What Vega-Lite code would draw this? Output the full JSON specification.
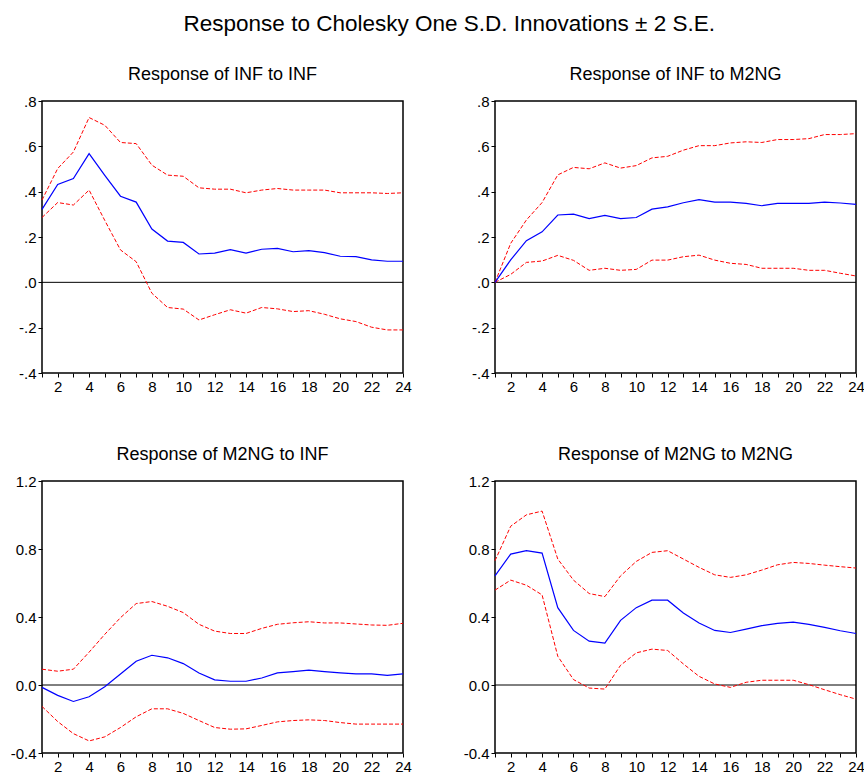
{
  "$schema": "https://vega.github.io/schema/vega-lite/v6.json",
  "background": "white",
  "padding": {"left": 9, "top": 12, "right": 2, "bottom": 0},
  "title": {"text": "Response to Cholesky One S.D. Innovations ± 2 S.E.", "fontSize": 22.5, "font": "Liberation Sans", "fontWeight": "normal", "color": "black", "anchor": "middle", "offset": 30, "dx": 12},
  "datasets": {
    "irf": [
      {"p":"A","h":1,"r":0.322,"u":0.363,"l":0.286},
      {"p":"A","h":2,"r":0.432,"u":0.502,"l":0.352},
      {"p":"A","h":3,"r":0.458,"u":0.575,"l":0.341},
      {"p":"A","h":4,"r":0.568,"u":0.727,"l":0.407},
      {"p":"A","h":5,"r":0.472,"u":0.693,"l":0.273},
      {"p":"A","h":6,"r":0.380,"u":0.617,"l":0.143},
      {"p":"A","h":7,"r":0.354,"u":0.612,"l":0.091},
      {"p":"A","h":8,"r":0.235,"u":0.517,"l":-0.048},
      {"p":"A","h":9,"r":0.182,"u":0.473,"l":-0.111},
      {"p":"A","h":10,"r":0.176,"u":0.468,"l":-0.118},
      {"p":"A","h":11,"r":0.125,"u":0.417,"l":-0.166},
      {"p":"A","h":12,"r":0.129,"u":0.411,"l":-0.143},
      {"p":"A","h":13,"r":0.144,"u":0.411,"l":-0.121},
      {"p":"A","h":14,"r":0.129,"u":0.395,"l":-0.136},
      {"p":"A","h":15,"r":0.146,"u":0.407,"l":-0.111},
      {"p":"A","h":16,"r":0.150,"u":0.414,"l":-0.117},
      {"p":"A","h":17,"r":0.135,"u":0.407,"l":-0.129},
      {"p":"A","h":18,"r":0.140,"u":0.407,"l":-0.125},
      {"p":"A","h":19,"r":0.131,"u":0.407,"l":-0.141},
      {"p":"A","h":20,"r":0.115,"u":0.395,"l":-0.161},
      {"p":"A","h":21,"r":0.113,"u":0.395,"l":-0.173},
      {"p":"A","h":22,"r":0.099,"u":0.395,"l":-0.198},
      {"p":"A","h":23,"r":0.093,"u":0.392,"l":-0.210},
      {"p":"A","h":24,"r":0.093,"u":0.395,"l":-0.210},
      {"p":"B","h":1,"r":0.0,"u":0.0,"l":0.0},
      {"p":"B","h":2,"r":0.099,"u":0.172,"l":0.035},
      {"p":"B","h":3,"r":0.184,"u":0.275,"l":0.088},
      {"p":"B","h":4,"r":0.223,"u":0.352,"l":0.094},
      {"p":"B","h":5,"r":0.297,"u":0.474,"l":0.119},
      {"p":"B","h":6,"r":0.301,"u":0.507,"l":0.097},
      {"p":"B","h":7,"r":0.281,"u":0.501,"l":0.053},
      {"p":"B","h":8,"r":0.295,"u":0.527,"l":0.062},
      {"p":"B","h":9,"r":0.281,"u":0.504,"l":0.053},
      {"p":"B","h":10,"r":0.286,"u":0.515,"l":0.057},
      {"p":"B","h":11,"r":0.323,"u":0.549,"l":0.098},
      {"p":"B","h":12,"r":0.333,"u":0.556,"l":0.098},
      {"p":"B","h":13,"r":0.351,"u":0.583,"l":0.113},
      {"p":"B","h":14,"r":0.365,"u":0.603,"l":0.120},
      {"p":"B","h":15,"r":0.354,"u":0.603,"l":0.098},
      {"p":"B","h":16,"r":0.354,"u":0.615,"l":0.084},
      {"p":"B","h":17,"r":0.348,"u":0.620,"l":0.079},
      {"p":"B","h":18,"r":0.338,"u":0.617,"l":0.062},
      {"p":"B","h":19,"r":0.348,"u":0.630,"l":0.062},
      {"p":"B","h":20,"r":0.348,"u":0.630,"l":0.062},
      {"p":"B","h":21,"r":0.348,"u":0.634,"l":0.053},
      {"p":"B","h":22,"r":0.354,"u":0.652,"l":0.053},
      {"p":"B","h":23,"r":0.350,"u":0.652,"l":0.040},
      {"p":"B","h":24,"r":0.344,"u":0.656,"l":0.028},
      {"p":"C","h":1,"r":-0.014,"u":0.093,"l":-0.126},
      {"p":"C","h":2,"r":-0.061,"u":0.081,"l":-0.215},
      {"p":"C","h":3,"r":-0.097,"u":0.093,"l":-0.286},
      {"p":"C","h":4,"r":-0.069,"u":0.193,"l":-0.329},
      {"p":"C","h":5,"r":-0.010,"u":0.298,"l":-0.305},
      {"p":"C","h":6,"r":0.065,"u":0.396,"l":-0.250},
      {"p":"C","h":7,"r":0.140,"u":0.479,"l":-0.187},
      {"p":"C","h":8,"r":0.175,"u":0.491,"l":-0.140},
      {"p":"C","h":9,"r":0.160,"u":0.463,"l":-0.140},
      {"p":"C","h":10,"r":0.126,"u":0.426,"l":-0.167},
      {"p":"C","h":11,"r":0.071,"u":0.357,"l":-0.209},
      {"p":"C","h":12,"r":0.030,"u":0.317,"l":-0.250},
      {"p":"C","h":13,"r":0.022,"u":0.303,"l":-0.260},
      {"p":"C","h":14,"r":0.022,"u":0.303,"l":-0.258},
      {"p":"C","h":15,"r":0.041,"u":0.333,"l":-0.238},
      {"p":"C","h":16,"r":0.071,"u":0.357,"l":-0.217},
      {"p":"C","h":17,"r":0.079,"u":0.366,"l":-0.209},
      {"p":"C","h":18,"r":0.087,"u":0.372,"l":-0.205},
      {"p":"C","h":19,"r":0.079,"u":0.365,"l":-0.209},
      {"p":"C","h":20,"r":0.071,"u":0.365,"l":-0.221},
      {"p":"C","h":21,"r":0.065,"u":0.359,"l":-0.230},
      {"p":"C","h":22,"r":0.065,"u":0.353,"l":-0.230},
      {"p":"C","h":23,"r":0.057,"u":0.351,"l":-0.230},
      {"p":"C","h":24,"r":0.065,"u":0.363,"l":-0.230},
      {"p":"D","h":1,"r":0.642,"u":0.731,"l":0.558},
      {"p":"D","h":2,"r":0.770,"u":0.934,"l":0.617},
      {"p":"D","h":3,"r":0.790,"u":1.001,"l":0.587},
      {"p":"D","h":4,"r":0.776,"u":1.023,"l":0.530},
      {"p":"D","h":5,"r":0.455,"u":0.741,"l":0.169},
      {"p":"D","h":6,"r":0.321,"u":0.617,"l":0.032},
      {"p":"D","h":7,"r":0.258,"u":0.538,"l":-0.018},
      {"p":"D","h":8,"r":0.246,"u":0.520,"l":-0.024},
      {"p":"D","h":9,"r":0.380,"u":0.642,"l":0.116},
      {"p":"D","h":10,"r":0.455,"u":0.727,"l":0.189},
      {"p":"D","h":11,"r":0.499,"u":0.780,"l":0.211},
      {"p":"D","h":12,"r":0.499,"u":0.790,"l":0.203},
      {"p":"D","h":13,"r":0.424,"u":0.741,"l":0.124},
      {"p":"D","h":14,"r":0.365,"u":0.692,"l":0.051},
      {"p":"D","h":15,"r":0.321,"u":0.648,"l":0.006},
      {"p":"D","h":16,"r":0.309,"u":0.633,"l":-0.014},
      {"p":"D","h":17,"r":0.329,"u":0.648,"l":0.016},
      {"p":"D","h":18,"r":0.349,"u":0.676,"l":0.028},
      {"p":"D","h":19,"r":0.363,"u":0.707,"l":0.028},
      {"p":"D","h":20,"r":0.370,"u":0.721,"l":0.028},
      {"p":"D","h":21,"r":0.357,"u":0.715,"l":0.002},
      {"p":"D","h":22,"r":0.339,"u":0.705,"l":-0.028},
      {"p":"D","h":23,"r":0.319,"u":0.696,"l":-0.057},
      {"p":"D","h":24,"r":0.303,"u":0.688,"l":-0.083}
    ]
  },
  "columns": 2,
  "spacing": {"row": 50, "column": 49},
  "concat": [
    {
      "title": {"text": "Response of INF to INF", "frame": "group", "offset": 10},
      "width": 361, "height": 272,
      "data": {"name": "irf"},
      "transform": [{"filter": "datum.p == 'A'"}],
      "layer": [
        {"data": {"values": [{"z": 0}]}, "mark": {"type": "rule", "color": "black", "strokeWidth": 1}, "encoding": {"y": {"field": "z", "type": "quantitative", "title": null, "scale": {"domain": [-0.4, 0.8], "nice": false}, "axis": {"values": [-0.4, -0.2, 0, 0.2, 0.4, 0.6, 0.8], "labelExpr": "replace(replace(format(datum.value, '.1f'), '−', '-'), '0.', '.')"}}}},
        {"mark": {"type": "line", "color": "#ff0000", "strokeWidth": 1, "strokeDash": [4, 2]}, "encoding": {"x": {"field": "h", "type": "quantitative", "title": null, "scale": {"domain": [1, 24], "nice": false}, "axis": {"values": [1,2,3,4,5,6,7,8,9,10,11,12,13,14,15,16,17,18,19,20,21,22,23,24], "labelExpr": "datum.value % 2 == 0 ? datum.label : ''", "labelFlush": false, "labelOverlap": false}}, "y": {"field": "u", "type": "quantitative", "title": null}}},
        {"mark": {"type": "line", "color": "#ff0000", "strokeWidth": 1, "strokeDash": [4, 2]}, "encoding": {"x": {"field": "h", "type": "quantitative", "title": null, "scale": {"domain": [1, 24], "nice": false}, "axis": {"values": [1,2,3,4,5,6,7,8,9,10,11,12,13,14,15,16,17,18,19,20,21,22,23,24], "labelExpr": "datum.value % 2 == 0 ? datum.label : ''", "labelFlush": false, "labelOverlap": false}}, "y": {"field": "l", "type": "quantitative", "title": null}}},
        {"mark": {"type": "line", "color": "#0000ff", "strokeWidth": 1.2}, "encoding": {"x": {"field": "h", "type": "quantitative", "title": null, "scale": {"domain": [1, 24], "nice": false}, "axis": {"values": [1,2,3,4,5,6,7,8,9,10,11,12,13,14,15,16,17,18,19,20,21,22,23,24], "labelExpr": "datum.value % 2 == 0 ? datum.label : ''", "labelFlush": false, "labelOverlap": false}}, "y": {"field": "r", "type": "quantitative", "title": null}}}
      ]
    },
    {
      "title": {"text": "Response of INF to M2NG", "frame": "group", "offset": 10},
      "width": 361, "height": 272,
      "data": {"name": "irf"},
      "transform": [{"filter": "datum.p == 'B'"}],
      "layer": [
        {"data": {"values": [{"z": 0}]}, "mark": {"type": "rule", "color": "black", "strokeWidth": 1}, "encoding": {"y": {"field": "z", "type": "quantitative", "title": null, "scale": {"domain": [-0.4, 0.8], "nice": false}, "axis": {"values": [-0.4, -0.2, 0, 0.2, 0.4, 0.6, 0.8], "labelExpr": "replace(replace(format(datum.value, '.1f'), '−', '-'), '0.', '.')"}}}},
        {"mark": {"type": "line", "color": "#ff0000", "strokeWidth": 1, "strokeDash": [4, 2]}, "encoding": {"x": {"field": "h", "type": "quantitative", "title": null, "scale": {"domain": [1, 24], "nice": false}, "axis": {"values": [1,2,3,4,5,6,7,8,9,10,11,12,13,14,15,16,17,18,19,20,21,22,23,24], "labelExpr": "datum.value % 2 == 0 ? datum.label : ''", "labelFlush": false, "labelOverlap": false}}, "y": {"field": "u", "type": "quantitative", "title": null}}},
        {"mark": {"type": "line", "color": "#ff0000", "strokeWidth": 1, "strokeDash": [4, 2]}, "encoding": {"x": {"field": "h", "type": "quantitative", "title": null, "scale": {"domain": [1, 24], "nice": false}, "axis": {"values": [1,2,3,4,5,6,7,8,9,10,11,12,13,14,15,16,17,18,19,20,21,22,23,24], "labelExpr": "datum.value % 2 == 0 ? datum.label : ''", "labelFlush": false, "labelOverlap": false}}, "y": {"field": "l", "type": "quantitative", "title": null}}},
        {"mark": {"type": "line", "color": "#0000ff", "strokeWidth": 1.2}, "encoding": {"x": {"field": "h", "type": "quantitative", "title": null, "scale": {"domain": [1, 24], "nice": false}, "axis": {"values": [1,2,3,4,5,6,7,8,9,10,11,12,13,14,15,16,17,18,19,20,21,22,23,24], "labelExpr": "datum.value % 2 == 0 ? datum.label : ''", "labelFlush": false, "labelOverlap": false}}, "y": {"field": "r", "type": "quantitative", "title": null}}}
      ]
    },
    {
      "title": {"text": "Response of M2NG to INF", "frame": "group", "offset": 10},
      "width": 361, "height": 272,
      "data": {"name": "irf"},
      "transform": [{"filter": "datum.p == 'C'"}],
      "layer": [
        {"data": {"values": [{"z": 0}]}, "mark": {"type": "rule", "color": "black", "strokeWidth": 1}, "encoding": {"y": {"field": "z", "type": "quantitative", "title": null, "scale": {"domain": [-0.4, 1.2], "nice": false}, "axis": {"values": [-0.4, 0, 0.4, 0.8, 1.2], "labelExpr": "replace(format(datum.value, '.1f'), '−', '-')"}}}},
        {"mark": {"type": "line", "color": "#ff0000", "strokeWidth": 1, "strokeDash": [4, 2]}, "encoding": {"x": {"field": "h", "type": "quantitative", "title": null, "scale": {"domain": [1, 24], "nice": false}, "axis": {"values": [1,2,3,4,5,6,7,8,9,10,11,12,13,14,15,16,17,18,19,20,21,22,23,24], "labelExpr": "datum.value % 2 == 0 ? datum.label : ''", "labelFlush": false, "labelOverlap": false}}, "y": {"field": "u", "type": "quantitative", "title": null}}},
        {"mark": {"type": "line", "color": "#ff0000", "strokeWidth": 1, "strokeDash": [4, 2]}, "encoding": {"x": {"field": "h", "type": "quantitative", "title": null, "scale": {"domain": [1, 24], "nice": false}, "axis": {"values": [1,2,3,4,5,6,7,8,9,10,11,12,13,14,15,16,17,18,19,20,21,22,23,24], "labelExpr": "datum.value % 2 == 0 ? datum.label : ''", "labelFlush": false, "labelOverlap": false}}, "y": {"field": "l", "type": "quantitative", "title": null}}},
        {"mark": {"type": "line", "color": "#0000ff", "strokeWidth": 1.2}, "encoding": {"x": {"field": "h", "type": "quantitative", "title": null, "scale": {"domain": [1, 24], "nice": false}, "axis": {"values": [1,2,3,4,5,6,7,8,9,10,11,12,13,14,15,16,17,18,19,20,21,22,23,24], "labelExpr": "datum.value % 2 == 0 ? datum.label : ''", "labelFlush": false, "labelOverlap": false}}, "y": {"field": "r", "type": "quantitative", "title": null}}}
      ]
    },
    {
      "title": {"text": "Response of M2NG to M2NG", "frame": "group", "offset": 10},
      "width": 361, "height": 272,
      "data": {"name": "irf"},
      "transform": [{"filter": "datum.p == 'D'"}],
      "layer": [
        {"data": {"values": [{"z": 0}]}, "mark": {"type": "rule", "color": "black", "strokeWidth": 1}, "encoding": {"y": {"field": "z", "type": "quantitative", "title": null, "scale": {"domain": [-0.4, 1.2], "nice": false}, "axis": {"values": [-0.4, 0, 0.4, 0.8, 1.2], "labelExpr": "replace(format(datum.value, '.1f'), '−', '-')"}}}},
        {"mark": {"type": "line", "color": "#ff0000", "strokeWidth": 1, "strokeDash": [4, 2]}, "encoding": {"x": {"field": "h", "type": "quantitative", "title": null, "scale": {"domain": [1, 24], "nice": false}, "axis": {"values": [1,2,3,4,5,6,7,8,9,10,11,12,13,14,15,16,17,18,19,20,21,22,23,24], "labelExpr": "datum.value % 2 == 0 ? datum.label : ''", "labelFlush": false, "labelOverlap": false}}, "y": {"field": "u", "type": "quantitative", "title": null}}},
        {"mark": {"type": "line", "color": "#ff0000", "strokeWidth": 1, "strokeDash": [4, 2]}, "encoding": {"x": {"field": "h", "type": "quantitative", "title": null, "scale": {"domain": [1, 24], "nice": false}, "axis": {"values": [1,2,3,4,5,6,7,8,9,10,11,12,13,14,15,16,17,18,19,20,21,22,23,24], "labelExpr": "datum.value % 2 == 0 ? datum.label : ''", "labelFlush": false, "labelOverlap": false}}, "y": {"field": "l", "type": "quantitative", "title": null}}},
        {"mark": {"type": "line", "color": "#0000ff", "strokeWidth": 1.2}, "encoding": {"x": {"field": "h", "type": "quantitative", "title": null, "scale": {"domain": [1, 24], "nice": false}, "axis": {"values": [1,2,3,4,5,6,7,8,9,10,11,12,13,14,15,16,17,18,19,20,21,22,23,24], "labelExpr": "datum.value % 2 == 0 ? datum.label : ''", "labelFlush": false, "labelOverlap": false}}, "y": {"field": "r", "type": "quantitative", "title": null}}}
      ]
    }
  ],
  "config": {
    "font": "Liberation Sans",
    "view": {"stroke": "black", "strokeWidth": 1.5},
    "axis": {"grid": false, "domain": false, "tickColor": "black", "labelColor": "black", "labelFont": "Liberation Sans", "labelFontSize": 15, "tickSize": 4, "labelPadding": 2},
    "title": {"font": "Liberation Sans", "fontSize": 18, "fontWeight": "normal", "color": "black"}
  }
}
